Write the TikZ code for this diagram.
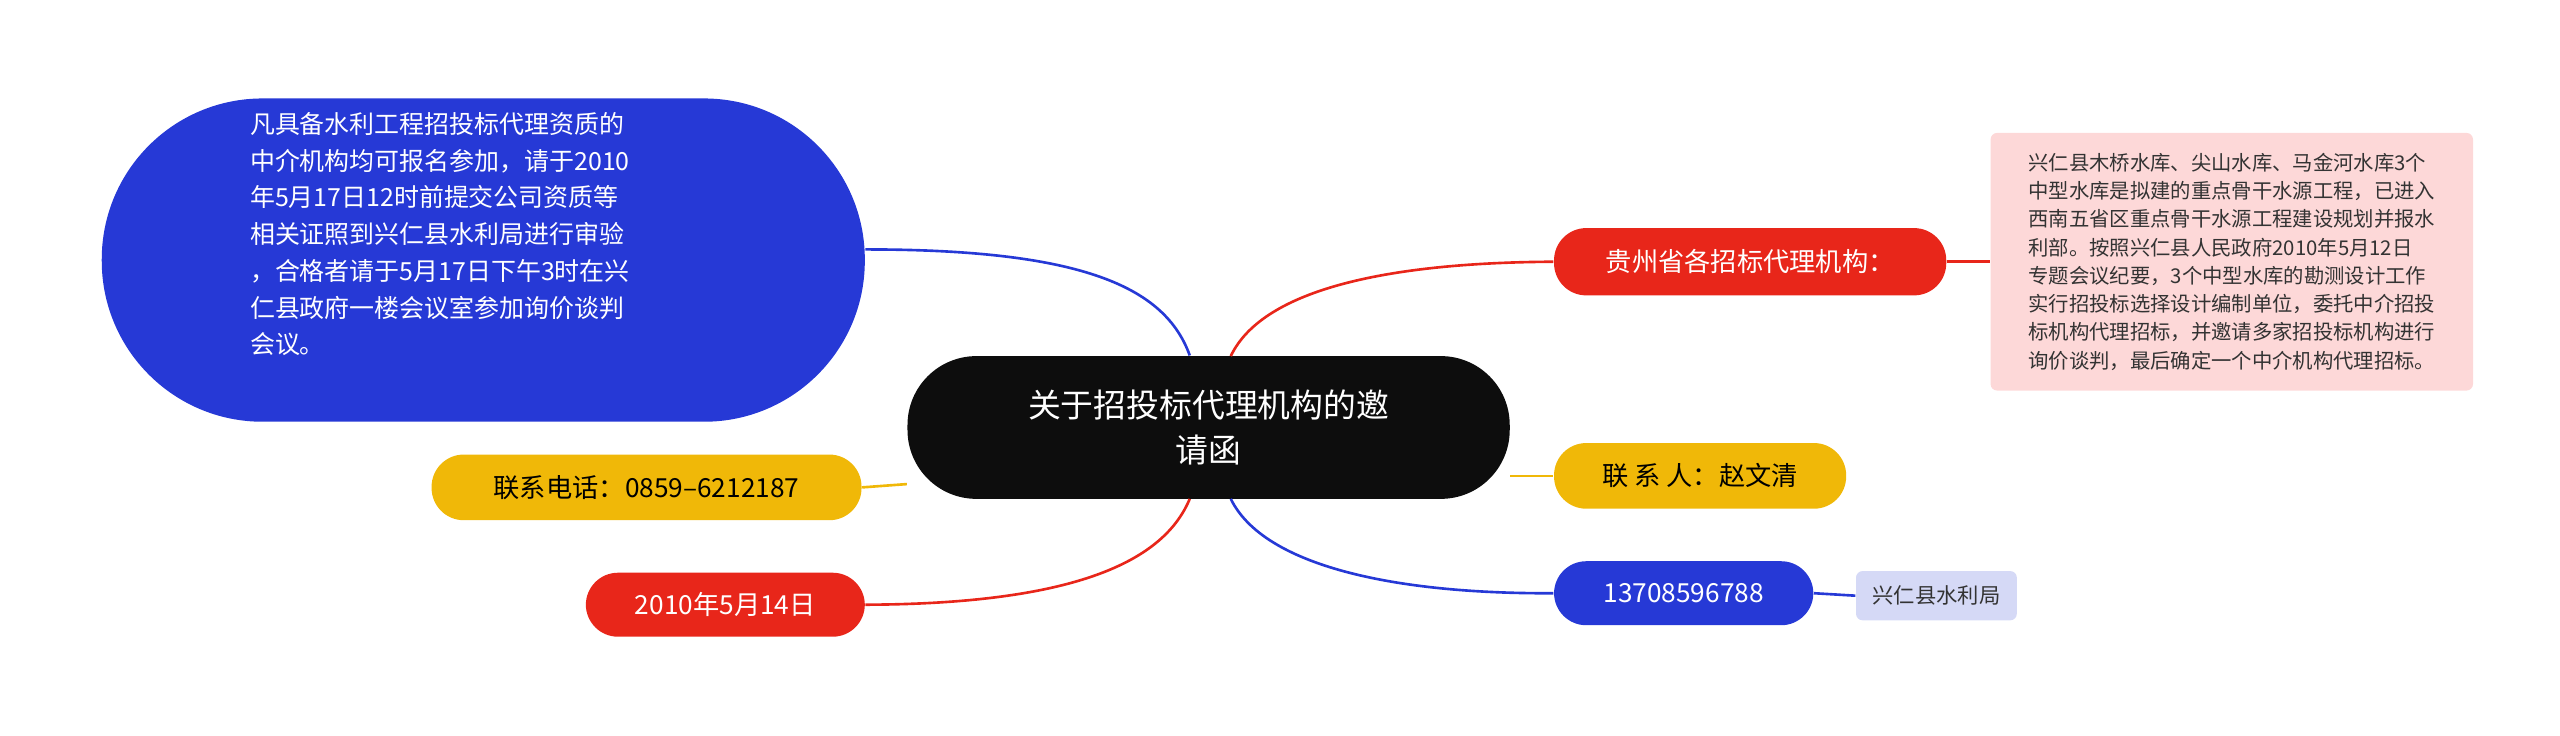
\documentclass[tikz,border=0pt]{standalone}
\usepackage{fontspec}
\setmainfont{Noto Sans CJK SC}
\begin{document}
\begin{tikzpicture}[x=0.5pt,y=-0.5pt,
 pill/.style={rounded corners=9.8pt,inner sep=0pt,align=center},
 lnk/.style={line width=0.8pt}]
\useasboundingbox (0,0) rectangle (1560,448);
\definecolor{cblue}{HTML}{2639D6}
\definecolor{cred}{HTML}{E8261A}
\definecolor{cyel}{HTML}{F0B808}
\definecolor{cpink}{HTML}{FDD8D8}
\definecolor{clav}{HTML}{D5D9F6}
% nodes
\node[fill=black!95,rounded corners=21pt,minimum width=183.5pt,minimum height=43.5pt,text=white,font=\fontsize{10}{14}\selectfont,align=center] (c) at (736.5,260.5) {关于招投标代理机构的邀\\请函};
\node[fill=cblue,rounded corners=49pt,minimum width=232.5pt,minimum height=98.5pt,text=white,inner sep=0pt] (b) at (294.5,158.5) {};
\node[text=white,font=\fontsize{7.6}{11.2}\selectfont,align=left,anchor=north west,inner sep=0pt] (bt) at (152,68) {凡具备水利工程招投标代理资质的\\中介机构均可报名参加，请于2010\\年5月17日12时前提交公司资质等\\相关证照到兴仁县水利局进行审验\\，合格者请于5月17日下午3时在兴\\仁县政府一楼会议室参加询价谈判\\会议。};
\node[pill,fill=cyel,minimum width=131pt,minimum height=20pt,font=\fontsize{8}{10}\selectfont] (t) at (394,297) {联系电话：0859--6212187};
\node[pill,fill=cred,minimum width=85pt,minimum height=19.5pt,text=white,font=\fontsize{8}{10}\selectfont] (d) at (442,368.5) {2010年5月14日};
\node[pill,fill=cred,minimum width=119.5pt,minimum height=20.5pt,text=white,font=\fontsize{8}{10}\selectfont] (g) at (1066.5,159.5) {贵州省各招标代理机构：};
\node[pill,fill=cyel,minimum width=89pt,minimum height=20pt,font=\fontsize{8}{10}\selectfont] (p) at (1036,290) {联 系 人：赵文清};
\node[pill,fill=cblue,minimum width=79pt,minimum height=19.5pt,text=white,font=\fontsize{8}{10}\selectfont] (n) at (1026,361.5) {13708596788};
\node[fill=cpink,rounded corners=2pt,minimum width=147pt,minimum height=78.5pt,inner sep=0pt] (pk) at (1360,159.5) {};
\node[font=\fontsize{6.2}{8.6}\selectfont,align=left,inner sep=0pt,text=black!80] (pkt) at (1360,159.5) {兴仁县木桥水库、尖山水库、马金河水库3个\\中型水库是拟建的重点骨干水源工程，已进入\\西南五省区重点骨干水源工程建设规划并报水\\利部。按照兴仁县人民政府2010年5月12日\\专题会议纪要，3个中型水库的勘测设计工作\\实行招投标选择设计编制单位，委托中介招投\\标机构代理招标，并邀请多家招投标机构进行\\询价谈判，最后确定一个中介机构代理招标。};
\node[fill=clav,rounded corners=2pt,minimum width=49pt,minimum height=15pt,inner sep=0pt,font=\fontsize{6.5}{8}\selectfont,text=black!80] (w) at (1180,363) {兴仁县水利局};
% connectors
\draw[lnk,cblue] (b.east|-0,152) .. controls (660,152) and (710,175) .. (c.north west-|725,0);
\draw[lnk,cyel] (t.east) -- (c.west|-0,295);
\draw[lnk,cred] (d.east) .. controls (660,368) and (710,340) .. (725,304);
\draw[lnk,cred] (750,217) .. controls (770,175) and (850,160) .. (g.west);
\draw[lnk,cyel] (c.east|-0,290) -- (p.west);
\draw[lnk,cblue] (750,304) .. controls (770,345) and (850,362) .. (n.west);
\draw[lnk,cred] (g.east) -- (pk.west|-g.east);
\draw[lnk,cblue] (n.east) -- (w.west);
\end{tikzpicture}
\end{document}
